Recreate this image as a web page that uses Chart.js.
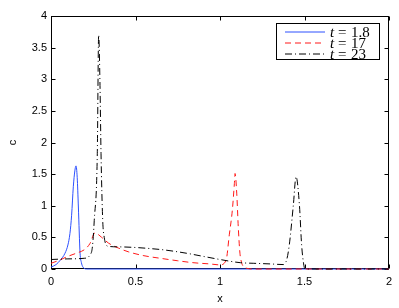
<!DOCTYPE html>
<html>
<head>
<meta charset="utf-8">
<script src="https://cdn.jsdelivr.net/npm/chart.js@4/dist/chart.umd.min.js"></script>
<style>
html,body{margin:0;padding:0;background:#fff;}
#wrap{width:399px;height:308px;}
</style>
</head>
<body>
<div id="wrap"><canvas id="c" width="399" height="308"></canvas></div>
<script>
// ---- data ----
const xTicks = [0, 0.5, 1, 1.5, 2];
const yTicks = [0, 0.5, 1, 1.5, 2, 2.5, 3, 3.5, 4];
const seriesLabels = ['1.8', '17', '23'];

const x18 = [0, 0.03, 0.055, 0.083, 0.1, 0.112, 0.122, 0.132, 0.141, 0.148, 0.155, 0.162, 0.172, 0.18, 0.187, 0.196, 0.21, 2.0];
const y18 = [0.03, 0.07, 0.14, 0.25, 0.38, 0.56, 0.85, 1.3, 1.55, 1.63, 1.45, 0.98, 0.25, 0.1, 0.04, 0.01, 0, 0];

const x17 = [0, 0.05, 0.1, 0.15, 0.2, 0.23, 0.26, 0.3, 0.34, 0.4, 0.46, 0.55, 0.645, 0.75, 0.84, 0.94, 1.0, 1.036, 1.055, 1.073, 1.085, 1.089, 1.099, 1.108, 1.118, 1.128, 1.138, 1.16, 1.2, 2.0];
const y17 = [0.09, 0.14, 0.2, 0.25, 0.31, 0.4, 0.57, 0.5, 0.41, 0.33, 0.27, 0.21, 0.17, 0.13, 0.1, 0.08, 0.065, 0.14, 0.54, 0.93, 1.35, 1.51, 1.2, 0.67, 0.25, 0.1, 0.04, 0.01, 0, 0];

const x23 = [0, 0.1, 0.2, 0.23, 0.245, 0.256, 0.274, 0.282, 0.29, 0.296, 0.306, 0.315, 0.337, 0.4, 0.5, 0.6, 0.675, 0.8, 0.9, 1.0, 1.12, 1.2, 1.3, 1.375, 1.395, 1.41, 1.434, 1.45, 1.47, 1.483, 1.495, 1.503, 2.0];
const y23 = [0.15, 0.16, 0.17, 0.22, 0.35, 0.77, 1.83, 3.7, 2.9, 1.83, 0.77, 0.5, 0.36, 0.35, 0.34, 0.32, 0.3, 0.25, 0.2, 0.15, 0.1, 0.09, 0.08, 0.07, 0.15, 0.38, 1.01, 1.46, 1.01, 0.38, 0.08, 0, 0];

// ---- styles ----
const lineStyles = [
  {color: 'rgb(45,80,255)', dash: []},
  {color: 'rgb(255,25,25)', dash: [6,4]},
  {color: 'rgb(0,0,0)', dash: [7,3,1,3]}
];
const sans = 'Liberation Sans, Arial, Helvetica, sans-serif';
const serif = '"Liberation Serif", "Times New Roman", serif';

function pts(xs, ys){ return xs.map((x,i)=>({x:x, y:ys[i]})); }

const boxPlugin = {
  id: 'matlabBox',
  beforeDatasetsDraw(chart){
    const ctx = chart.ctx, a = chart.chartArea;
    const xs = chart.scales.x, ys = chart.scales.y;
    ctx.save();
    ctx.strokeStyle = '#000';
    ctx.lineWidth = 1;
    ctx.setLineDash([]);
    const L = Math.round(a.left)+0.5, R = Math.round(a.right)-0.5, T = Math.round(a.top)+0.5, B = Math.round(a.bottom)-0.5;
    ctx.strokeRect(L, T, R-L, B-T);
    const tl = 4;
    ctx.beginPath();
    xTicks.forEach(v=>{
      const px = Math.round(xs.getPixelForValue(v))+0.5;
      ctx.moveTo(px, B); ctx.lineTo(px, B-tl);
      ctx.moveTo(px, T); ctx.lineTo(px, T+tl);
    });
    yTicks.forEach(v=>{
      const py = Math.round(ys.getPixelForValue(v))+0.5;
      ctx.moveTo(L, py); ctx.lineTo(L+tl, py);
      ctx.moveTo(R, py); ctx.lineTo(R-tl, py);
    });
    ctx.stroke();
    ctx.restore();
  },
  afterDatasetsDraw(chart){
    const ctx = chart.ctx;
    ctx.save();
    ctx.lineWidth = 1;
    const lx = 276.5, ly = 23.5, lw = 103, lh = 36;
    ctx.fillStyle = '#fff';
    ctx.fillRect(lx, ly, lw, lh);
    ctx.strokeStyle = '#000';
    ctx.setLineDash([]);
    ctx.strokeRect(lx, ly, lw, lh);
    const rows = [32, 43, 54];
    lineStyles.forEach((st, i)=>{
      const y = rows[i];
      ctx.strokeStyle = st.color;
      ctx.setLineDash(st.dash);
      ctx.beginPath();
      ctx.moveTo(285, y); ctx.lineTo(325, y);
      ctx.stroke();
      ctx.setLineDash([]);
      ctx.fillStyle = '#000';
      ctx.textBaseline = 'alphabetic';
      ctx.textAlign = 'left';
      const base = y + 5;
      ctx.font = 'italic 15px ' + serif;
      ctx.fillText('t', 330, base);
      ctx.font = '15px ' + serif;
      ctx.fillText('=', 338, base);
      ctx.fillText(seriesLabels[i], 351, base);
    });
    ctx.restore();
  }
};

new Chart(document.getElementById('c'), {
  type: 'line',
  data: {
    datasets: [
      {label: 't = 1.8', data: pts(x18, y18), borderColor: lineStyles[0].color, borderDash: lineStyles[0].dash, order: 3},
      {label: 't = 17', data: pts(x17, y17), borderColor: lineStyles[1].color, borderDash: lineStyles[1].dash, order: 2},
      {label: 't = 23', data: pts(x23, y23), borderColor: lineStyles[2].color, borderDash: lineStyles[2].dash, order: 1}
    ]
  },
  options: {
    responsive: false,
    animation: false,
    devicePixelRatio: 1,
    layout: {padding: {top: 16, right: 10, left: 0, bottom: 0}},
    elements: {
      point: {radius: 0},
      line: {borderWidth: 1, cubicInterpolationMode: 'monotone', fill: false}
    },
    datasets: {line: {clip: 4}},
    plugins: {legend: {display: false}, tooltip: {enabled: false}},
    scales: {
      x: {
        type: 'linear', min: 0, max: 2,
        afterBuildTicks: s => { s.ticks = xTicks.map(v => ({value: v})); },
        grid: {display: false, drawTicks: false},
        border: {display: false},
        ticks: {color: '#000', font: {family: sans, size: 11}, padding: 6, maxRotation: 0, callback: v => String(v)},
        title: {display: true, text: 'x', color: '#000', font: {family: sans, size: 11}, padding: {top: 0, bottom: 2}},
        afterFit: s => { s.height = 39; }
      },
      y: {
        type: 'linear', min: 0, max: 4,
        afterBuildTicks: s => { s.ticks = yTicks.map(v => ({value: v})); },
        grid: {display: false, drawTicks: false},
        border: {display: false},
        ticks: {color: '#000', font: {family: sans, size: 11}, padding: 4, callback: v => String(v)},
        title: {display: true, text: 'c', color: '#000', font: {family: sans, size: 11}, padding: {top: 6, bottom: 0}},
        afterFit: s => { s.width = 51; }
      }
    }
  },
  plugins: [boxPlugin]
});
</script>
</body>
</html>
